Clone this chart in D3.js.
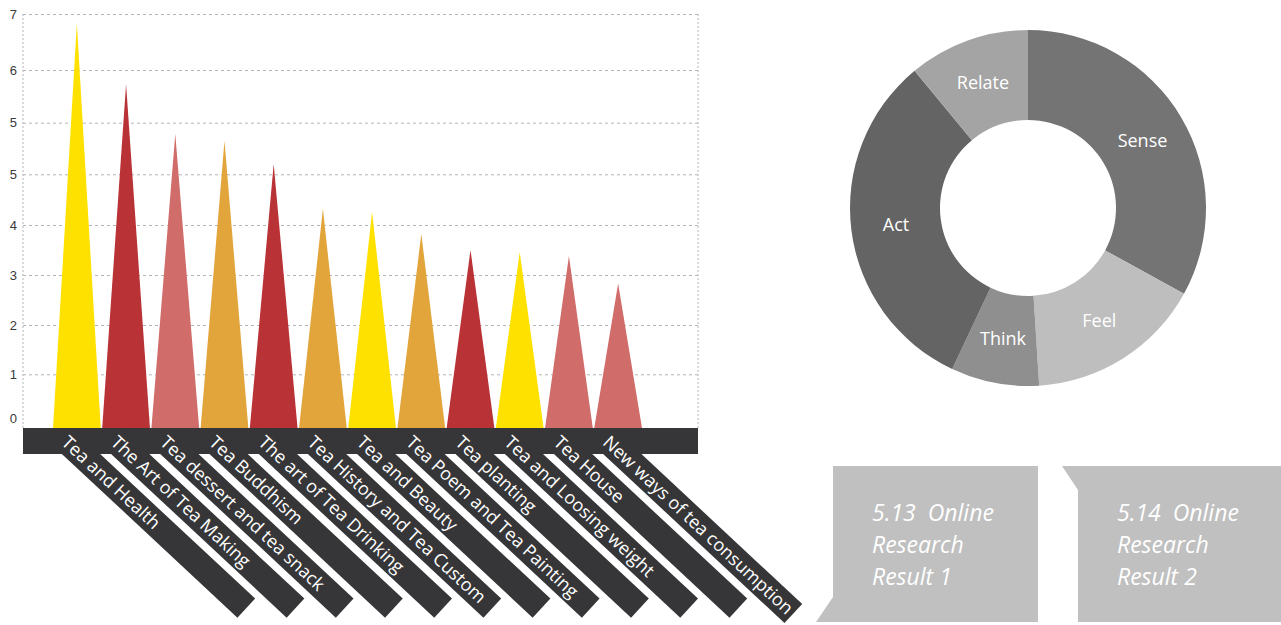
<!DOCTYPE html>
<html>
<head>
<meta charset="utf-8">
<script src="https://cdn.jsdelivr.net/npm/d3@7"></script>
<style>
  html, body { margin: 0; padding: 0; background: #fff; }
  svg { display: block; }
</style>
</head>
<body>
<svg id="chart" width="1281" height="625"></svg>
<script>
// ---------- data ----------
const categories = [
  "Tea and Health", "The Art of Tea Making", "Tea dessert and tea snack",
  "Tea Buddhism", "The art of Tea Drinking", "Tea History and Tea Custom",
  "Tea and Beauty", "Tea Poem and Tea Painting", "Tea planting",
  "Tea and Loosing weight", "Tea House", "New ways of tea consumption"
];
// values in axis-tick units (tick index 0..8)
const values = [7.83, 6.73, 5.78, 5.65, 5.2, 4.32, 4.26, 3.82, 3.5, 3.46, 3.38, 2.83];
const colorGroup = ["yellow", "red", "salmon", "orange", "red", "orange",
                    "yellow", "orange", "red", "yellow", "salmon", "salmon"];
const tickLabels = ["0", "1", "2", "3", "4", "5", "5", "6", "7"];

const donutLabels = ["Sense", "Feel", "Think", "Act", "Relate"];
const donutValues = [33, 16, 8, 32, 11];

const calloutLines = [
  ["5.13  Online", "Research", "Result 1"],
  ["5.14  Online", "Research", "Result 2"]
];

(function () {
// ---------- styles ----------
const palette = { yellow: "#ffe100", red: "#b93236", salmon: "#d06c69", orange: "#e2a53b" };
const donutColors = ["#747474", "#bebebe", "#8f8f8f", "#646464", "#a4a4a4"];
const dark = "#363638";

const svg = d3.select("#chart");

// ---------- triangle chart ----------
const plotL = 23, plotR = 698, plotT = 14, baseY = 428, bandBottom = 454;
const y = d3.scaleLinear()
  .domain(d3.range(9))
  .range([420, 374.3, 325, 275, 225, 174.3, 122.7, 70, 14]);
const x = d3.scaleBand().domain(categories).range([53, 642]).paddingInner(0.03);

// gridlines + labels
const axis = d3.axisLeft(y)
  .tickValues(d3.range(9))
  .tickFormat(i => tickLabels[i])
  .tickSize(-(plotR - plotL))
  .tickPadding(6);
const gAxis = svg.append("g").attr("transform", `translate(${plotL},0)`).call(axis);
gAxis.select(".domain").remove();
gAxis.selectAll(".tick line")
  .attr("stroke", "#b5b5b5").attr("stroke-dasharray", "3,3")
  .attr("display", d => d === 0 ? "none" : null);
gAxis.selectAll(".tick text")
  .attr("fill", "#3a3a3a").style("font-family", "'Liberation Sans', Arial, sans-serif")
  .style("font-size", "13px");
gAxis.selectAll(".tick").filter(d => d === 0).select("text").attr("dy", "0.2em");

// vertical dotted frame lines
svg.append("line").attr("x1", plotL).attr("x2", plotL).attr("y1", plotT).attr("y2", baseY)
  .attr("stroke", "#b5b5b5").attr("stroke-dasharray", "2,2");
svg.append("line").attr("x1", plotR).attr("x2", plotR).attr("y1", plotT).attr("y2", baseY)
  .attr("stroke", "#b5b5b5").attr("stroke-dasharray", "2,2");

// triangles
svg.append("g").selectAll("path").data(categories).join("path")
  .attr("d", (c, i) => {
    const x0 = x(c), bw = x.bandwidth();
    return `M${x0},${baseY}L${x0 + bw / 2},${y(values[i])}L${x0 + bw},${baseY}Z`;
  })
  .attr("fill", (c, i) => palette[colorGroup[i]]);

// dark horizontal band
svg.append("rect").attr("x", plotL).attr("y", baseY).attr("width", plotR - plotL)
  .attr("height", bandBottom - baseY).attr("fill", dark);

// diagonal label bands
const angle = 43, bandW = 26, sStart = -24, sText = -22;
const gLab = svg.append("g");
categories.forEach((c, i) => {
  const g = gLab.append("g")
    .attr("transform", `translate(${x(c) + 28},${bandBottom}) rotate(${angle})`);
  const rect = g.append("rect").attr("fill", dark);
  const t = g.append("text").text(c)
    .attr("x", sText).attr("y", 0).attr("dy", "0.36em")
    .attr("fill", "#fff")
    .style("font-family", "'Open Sans', sans-serif").style("font-size", "18px");
  const len = Math.max(226, t.node().getComputedTextLength() + sText + 4);
  rect.attr("x", sStart).attr("y", -bandW / 2).attr("width", len - sStart).attr("height", bandW);
});

// ---------- donut ----------
const cx = 1028, cy = 208;
const pie = d3.pie().sort(null).value(d => d);
const arc = d3.arc().innerRadius(88).outerRadius(178);
const gD = svg.append("g").attr("transform", `translate(${cx},${cy})`);
const arcs = pie(donutValues);
gD.selectAll("path").data(arcs).join("path")
  .attr("d", arc).attr("fill", (d, i) => donutColors[i]);
gD.selectAll("text").data(arcs).join("text")
  .attr("transform", d => `translate(${arc.centroid(d)})`)
  .attr("text-anchor", "middle").attr("dy", "0.35em")
  .attr("fill", "#fff")
  .style("font-family", "'Open Sans', sans-serif").style("font-size", "18px")
  .text((d, i) => donutLabels[i]);

// ---------- callouts ----------
const calloutShapes = [
  [[833, 466], [1038, 466], [1038, 622], [816, 622], [833, 597]],
  [[1062, 466], [1281, 466], [1281, 622], [1078, 622], [1078, 490]]
];
const calloutTextX = [872, 1117];
calloutLines.forEach((lines, k) => {
  svg.append("path").attr("d", d3.line()(calloutShapes[k]) + "Z").attr("fill", "#bfc0bf");
  const t = svg.append("text")
    .attr("fill", "#fff")
    .style("font-family", "'Open Sans', sans-serif").style("font-size", "23px")
    .style("font-style", "italic").style("white-space", "pre");
  lines.forEach((ln, j) => {
    t.append("tspan").attr("x", calloutTextX[k]).attr("y", 521 + j * 32).text(ln);
  });
});
})();
</script>
</body>
</html>
